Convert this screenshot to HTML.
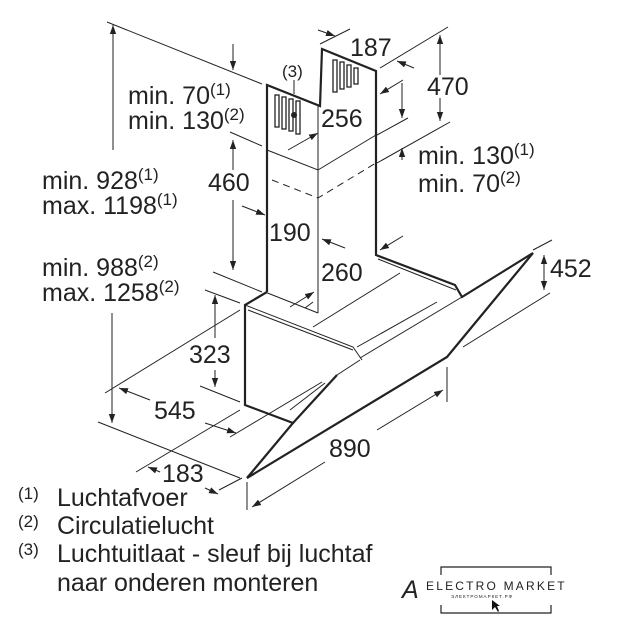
<!DOCTYPE html>
<html><head><meta charset="utf-8"><style>
html,body{margin:0;padding:0;background:#fff;width:617px;height:627px;overflow:hidden}
svg{display:block}
text{font-family:"Liberation Sans",Arial,sans-serif;fill:#222}
</style></head><body>
<svg width="617" height="627" viewBox="0 0 617 627" xmlns="http://www.w3.org/2000/svg">
<defs>
<marker id="a" viewBox="0 0 10 10" refX="10" refY="5" markerWidth="9" markerHeight="9" orient="auto-start-reverse" markerUnits="userSpaceOnUse"><path d="M0,1.5 L10,5 L0,8.5 z" fill="#222"/></marker>
</defs>
<g stroke="#222" stroke-width="1" fill="none">
<line x1="107" y1="22" x2="262" y2="84"/>
<line x1="230" y1="132" x2="262" y2="146"/>
<line x1="213" y1="272" x2="262" y2="292"/>
<line x1="205" y1="290" x2="240" y2="303"/>
<line x1="200" y1="386" x2="240" y2="402"/>
<line x1="98" y1="422" x2="240" y2="478"/>
<line x1="105" y1="393" x2="240" y2="310"/>
<line x1="230" y1="437" x2="322" y2="382"/>
<line x1="136" y1="472" x2="240" y2="410"/>
<line x1="219" y1="490" x2="242" y2="478"/>
<line x1="247" y1="482" x2="247" y2="510"/>
<line x1="447" y1="367" x2="447" y2="402"/>
<line x1="463" y1="347" x2="550" y2="293"/>
<line x1="533" y1="250" x2="552" y2="240"/>
<line x1="320" y1="44" x2="350" y2="29"/>
<line x1="380" y1="68" x2="448" y2="27"/>
<line x1="377" y1="135" x2="408" y2="118"/>
<line x1="377" y1="163" x2="450" y2="122"/>
<line x1="305" y1="308" x2="313" y2="302"/>
<line x1="113" y1="150" x2="113" y2="25" marker-end="url(#a)"/>
<line x1="112" y1="313" x2="112" y2="423" marker-end="url(#a)"/>
<line x1="233" y1="70" x2="233" y2="44" marker-start="url(#a)"/>
<line x1="233" y1="170" x2="233" y2="140" marker-end="url(#a)"/>
<line x1="233" y1="200" x2="233" y2="270" marker-end="url(#a)"/>
<line x1="215" y1="338" x2="215" y2="295" marker-end="url(#a)"/>
<line x1="215" y1="370" x2="215" y2="387" marker-end="url(#a)"/>
<line x1="119" y1="388" x2="150" y2="400" marker-start="url(#a)"/>
<line x1="205" y1="423" x2="236" y2="433" marker-end="url(#a)"/>
<line x1="148" y1="467" x2="160" y2="472" marker-start="url(#a)"/>
<line x1="205" y1="488" x2="218" y2="494" marker-end="url(#a)"/>
<line x1="377" y1="430" x2="443" y2="390" marker-end="url(#a)"/>
<line x1="325" y1="462" x2="252" y2="507" marker-end="url(#a)"/>
<line x1="544" y1="255" x2="544" y2="290" marker-start="url(#a)" marker-end="url(#a)"/>
<line x1="440" y1="75" x2="440" y2="35" marker-end="url(#a)"/>
<line x1="440" y1="98" x2="440" y2="121" marker-end="url(#a)"/>
<line x1="402" y1="83" x2="402" y2="118" marker-end="url(#a)"/>
<line x1="402" y1="160" x2="402" y2="148" marker-end="url(#a)"/>
<line x1="318" y1="30" x2="335" y2="36" marker-end="url(#a)"/>
<line x1="414" y1="68" x2="397" y2="61" marker-end="url(#a)"/>
<line x1="403" y1="80" x2="380" y2="94" marker-end="url(#a)"/>
<line x1="288" y1="150" x2="318" y2="133" marker-end="url(#a)"/>
<line x1="242" y1="206" x2="265" y2="215" marker-end="url(#a)"/>
<line x1="345" y1="248" x2="322" y2="239" marker-end="url(#a)"/>
<line x1="403" y1="236" x2="380" y2="250" marker-end="url(#a)"/>
<line x1="290" y1="307" x2="314" y2="292" marker-end="url(#a)"/>
<line x1="294" y1="80" x2="294" y2="94"/>
<path d="M267,150 L318,170 L376,135"/>
<path d="M272,180 L318,198 L376,163" stroke-dasharray="7,5"/>
<line x1="318" y1="105" x2="318" y2="313"/>
<path d="M265,292 L318,313"/>
<path d="M245,305 L353,347 L362,360"/>
<path d="M248,310 L353,350"/>
<path d="M378,259 L456,290"/>
<line x1="313" y1="327" x2="400" y2="273"/>
<line x1="357" y1="347" x2="437" y2="302"/>
<line x1="360" y1="358" x2="462" y2="297"/>
<line x1="337" y1="375" x2="360" y2="360"/>
<line x1="290" y1="410" x2="325" y2="383"/>
<g stroke-width="1.3">
<rect x="275" y="95" width="4" height="32"/><rect x="282" y="97" width="4" height="32"/><rect x="289" y="99" width="4" height="32"/><rect x="296" y="101" width="4" height="33"/>
<rect x="333" y="60" width="4" height="32"/><rect x="340" y="62" width="4" height="27"/><rect x="347" y="65" width="4" height="22"/><rect x="354" y="68" width="4" height="16"/>
</g>
</g>
<circle cx="294" cy="115" r="3" fill="#222"/>
<g stroke="#222" stroke-width="2.2" fill="none" stroke-linejoin="miter">
<path d="M267,292 L267,85 L320,106 L322,49 L376,71 L376,255 L455,285 L462,297 L533,253 L447,357 L247,478 L293,423 L245,405 L245,305 L267,292"/>
<path d="M293,423 L337,375"/>
</g>
<g font-size="25">
<text x="350" y="56">187</text>
<text x="427" y="95">470</text>
<text x="282" y="77" font-size="17">(3)</text>
<text x="128" y="104">min. 70<tspan font-size="17" dy="-9">(1)</tspan></text>
<text x="128" y="129">min. 130<tspan font-size="17" dy="-9">(2)</tspan></text>
<text x="321" y="127">256</text>
<text x="418" y="164">min. 130<tspan font-size="17" dy="-9">(1)</tspan></text>
<text x="418" y="192">min. 70<tspan font-size="17" dy="-9">(2)</tspan></text>
<text x="42" y="189">min. 928<tspan font-size="17" dy="-9">(1)</tspan></text>
<text x="42" y="214">max. 1198<tspan font-size="17" dy="-9">(1)</tspan></text>
<text x="208" y="191">460</text>
<text x="269" y="241">190</text>
<text x="42" y="276">min. 988<tspan font-size="17" dy="-9">(2)</tspan></text>
<text x="42" y="301">max. 1258<tspan font-size="17" dy="-9">(2)</tspan></text>
<text x="321" y="281">260</text>
<text x="550" y="277">452</text>
<text x="189" y="363">323</text>
<text x="154" y="419">545</text>
<text x="329" y="457">890</text>
<text x="162" y="482">183</text>
<text x="18" y="506"><tspan font-size="17" dy="-7">(1)</tspan><tspan x="57" dy="7">Luchtafvoer</tspan></text>
<text x="18" y="534"><tspan font-size="17" dy="-7">(2)</tspan><tspan x="57" dy="7">Circulatielucht</tspan></text>
<text x="18" y="562"><tspan font-size="17" dy="-7">(3)</tspan><tspan x="57" dy="7">Luchtuitlaat - sleuf bij luchtaf</tspan></text>
<text x="57" y="591">naar onderen monteren</text>
<text x="402" y="598" font-style="italic">A</text>
</g>
<rect x="424" y="562" width="150" height="58" fill="#fff"/>
<g stroke="#222" stroke-width="1.2" fill="none">
<path d="M441,575 L441,567 L551,567 L551,575"/>
<path d="M441,605 L441,613 L551,613 L551,605"/>
</g>
<text x="426" y="590" font-size="12" letter-spacing="2.2" fill="#111">ELECTRO MARKET</text>
<text x="451" y="598" font-size="4.5" letter-spacing="1" fill="#444">ЭЛЕКТРОМАРКЕТ.РФ</text>
<path d="M492,600 L492,610 L495,607 L498,612 L499,611 L497,606 L500,606 z" fill="#111"/>
</svg>
</body></html>
